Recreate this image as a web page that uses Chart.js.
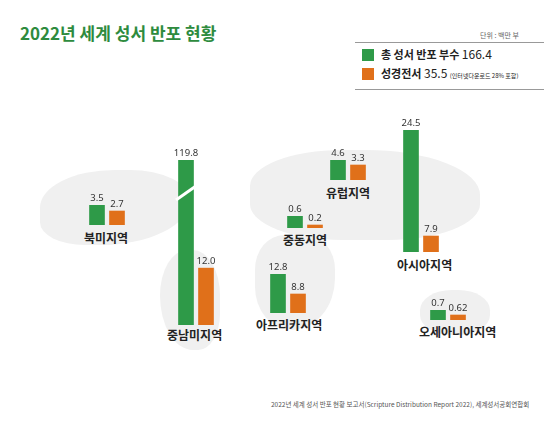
<!DOCTYPE html>
<html><head><meta charset="utf-8">
<script src="https://cdn.jsdelivr.net/npm/chart.js@4.4.0/dist/chart.umd.min.js"></script>
<style>
body{margin:0;width:544px;height:429px;background:#fff;font-family:"Noto Sans CJK KR","Noto Sans",sans-serif;position:relative;overflow:hidden}
.abs{position:absolute}
.blob{position:absolute;background:#f0f0f0;border-radius:45%}
.reg{position:absolute;font-weight:bold;font-size:12px;color:#222;white-space:nowrap}
</style></head><body>
<div class="blob" style="left:40px;top:170px;width:150px;height:75px;border-radius:50% 40% 60% 30%"></div>
<div class="blob" style="left:160px;top:250px;width:60px;height:100px;border-radius:50% 50% 40% 60%"></div>
<div class="blob" style="left:250px;top:150px;width:230px;height:90px;border-radius:40% 50% 40% 40%"></div>
<div class="blob" style="left:255px;top:235px;width:80px;height:95px;border-radius:40% 40% 60% 50%"></div>
<div class="blob" style="left:420px;top:290px;width:70px;height:45px"></div>
<div class="abs" style="left:20px;top:20px;font-size:17px;font-weight:bold;color:#2e8b3e">2022년 세계 성서 반포 현황</div>
<div class="abs" style="left:480px;top:30px;font-size:7px;color:#666">단위 : 백만 부</div>
<div class="abs" style="left:355px;top:42px;width:189px;border-top:1px solid #999;border-bottom:1px solid #999;height:46px"></div>
<div class="abs" style="left:362px;top:49px;width:12px;height:12px;background:#2e9a48"></div>
<div class="abs" style="left:381px;top:45px;font-size:11px;font-weight:bold;color:#222">총 성서 반포 부수 <span style="font-weight:normal;font-size:12px">166.4</span></div>
<div class="abs" style="left:362px;top:68px;width:12px;height:12px;background:#e0701a"></div>
<div class="abs" style="left:381px;top:64px;font-size:11px;font-weight:bold;color:#222">성경전서 <span style="font-weight:normal;font-size:12px">35.5</span> <span style="font-weight:normal;font-size:6px">(인터넷다운로드 28% 포함)</span></div>
<div class="abs" style="left:271px;top:399px;font-size:6.5px;color:#555">2022년 세계 성서 반포 현황 보고서(Scripture Distribution Report 2022), 세계성서공회연합회</div>
<script>
var regions = ['북미지역', '중남미지역', '유럽지역', '중동지역', '아프리카지역', '아시아지역', '오세아니아지역'];
var totalValues = [3.5, 119.8, 4.6, 0.6, 12.8, 24.5, 0.7];
var bibleValues = [2.7, 12.0, 3.3, 0.2, 8.8, 7.9, 0.62];
var valueLabels = [['3.5', '2.7'], ['119.8', '12.0'], ['4.6', '3.3'], ['0.6', '0.2'], ['12.8', '8.8'], ['24.5', '7.9'], ['0.7', '0.62']];

// placement of each mini chart: left, top of tallest bar, its pixel height, scale floor, label pos
var layout = [
  {left: 87, top: 205, h: 20, min: 0.84, lx: 84, ly: 229},
  {left: 176, top: 160, h: 165, min: -44.7, lx: 167, ly: 326, brk: true},
  {left: 328, top: 160, h: 20, min: -0.6, lx: 326, ly: 184},
  {left: 285, top: 216, h: 12, min: 0.067, lx: 283, ly: 231},
  {left: 268, top: 274, h: 39, min: 5.0, lx: 256, ly: 316},
  {left: 401, top: 130, h: 122, min: 5.4, lx: 397, ly: 256},
  {left: 428, top: 310, h: 10, min: 0.54, lx: 419, ly: 323}
];

var valuePlugin = {
  id: 'values',
  afterDatasetsDraw: function(chart) {
    var ctx = chart.ctx, i = chart.options.plugins.values.idx;
    ctx.save();
    ctx.font = '9.5px "Noto Sans", sans-serif';
    ctx.fillStyle = '#333';
    ctx.textAlign = 'center';
    chart.getDatasetMeta(0).data.forEach(function(bar, j) {
      ctx.fillText(valueLabels[i][j], bar.x, bar.y - 4);
    });
    if (layout[i].brk) {
      var b = chart.getDatasetMeta(0).data[0];
      ctx.strokeStyle = '#fff';
      ctx.lineWidth = 3;
      ctx.beginPath();
      ctx.moveTo(b.x - 10, b.y + 40);
      ctx.lineTo(b.x + 10, b.y + 26);
      ctx.stroke();
    }
    ctx.restore();
  }
};

regions.forEach(function(name, i) {
  var L = layout[i];
  var box = document.createElement('div');
  box.className = 'abs';
  box.style.cssText = 'left:' + (L.left - 10) + 'px;top:' + (L.top - 14) + 'px;width:60px;height:' + (L.h + 14) + 'px';
  var cv = document.createElement('canvas');
  box.appendChild(cv);
  document.body.appendChild(box);
  var lab = document.createElement('div');
  lab.className = 'reg';
  lab.style.left = L.lx + 'px';
  lab.style.top = L.ly + 'px';
  lab.textContent = name;
  document.body.appendChild(lab);

  new Chart(cv, {
    type: 'bar',
    data: {
      labels: ['총', '성경전서'],
      datasets: [{
        data: [totalValues[i], bibleValues[i]],
        base: L.min,
        backgroundColor: ['#2e9a48', '#e0701a'],
        barThickness: 15
      }]
    },
    options: {
      responsive: true,
      maintainAspectRatio: false,
      animation: false,
      layout: {padding: {top: 14, left: 10, right: 10}},
      plugins: {legend: {display: false}, tooltip: {enabled: false}, values: {idx: i}},
      scales: {
        x: {display: false},
        y: {display: false, min: L.min, max: totalValues[i]}
      }
    },
    plugins: [valuePlugin]
  });
});
</script>
</body></html>
